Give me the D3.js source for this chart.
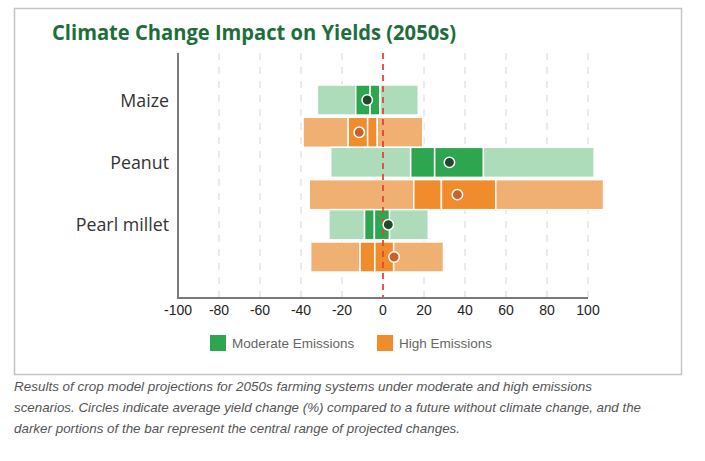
<!DOCTYPE html>
<html><head><meta charset="utf-8">
<script src="https://cdn.jsdelivr.net/npm/d3@7"></script>
<style>
body{margin:0;background:#fff;}
svg{display:block;}
</style></head>
<body>
<svg id="chart" width="705" height="461"></svg>
<script>
const crops = ["Maize", "Peanut", "Pearl millet"];
const series = ["Moderate Emissions", "High Emissions"];
// [min, q1, median, q3, max] per crop
const moderateRange = [
  [-32, -13.3, -6.3, -1.5, 17.2],
  [-25.5, 13.5, 25.2, 49, 103],
  [-26.4, -9, -4.2, 3.2, 22.1]
];
const highRange = [
  [-39, -17, -7.5, -2.8, 19.4],
  [-36, 15, 28.5, 55, 107.6],
  [-35.3, -11.2, -4, 5.2, 29.5]
];
const moderateMean = [-7.7, 32.4, 2.6];
const highMean = [-11.6, 36.3, 5.4];
const xTicks = [-100, -80, -60, -40, -20, 0, 20, 40, 60, 80, 100];

const colors = {
  "Moderate Emissions": {light: "#acdcb9", dark: "#2ea650", dot: "#1d4a2a"},
  "High Emissions": {light: "#f0b072", dark: "#f08c2c", dot: "#c8622c"}
};

const svg = d3.select("#chart");

// frame
svg.append("rect").attr("x", 14.5).attr("y", 8.5).attr("width", 667).attr("height", 366)
  .attr("fill", "none").attr("stroke", "#c4c4c4").attr("stroke-width", 1.5);

svg.append("text").attr("x", 52).attr("y", 40)
  .attr("font-family", "Open Sans").attr("font-weight", 700).attr("font-size", 20.5)
  .attr("fill", "#1e6e3b").attr("textLength", 404).attr("lengthAdjust", "spacingAndGlyphs")
  .text("Climate Change Impact on Yields (2050s)");

const x = d3.scaleLinear().domain([-100, 100]).range([178, 588]);
const plotTop = 53, plotBottom = 298;
const y = d3.scaleBand().domain(crops).range([85, 272]).paddingInner(0).paddingOuter(0);
const ys = d3.scaleBand().domain(series).range([0, y.bandwidth()]).paddingInner(0.07).paddingOuter(0.0);

// gridlines
svg.append("g").selectAll("line").data(xTicks.filter(d => d !== -100 && d !== 0)).join("line")
  .attr("x1", d => x(d)).attr("x2", d => x(d)).attr("y1", plotTop).attr("y2", plotBottom)
  .attr("stroke", "#d6d6d6").attr("stroke-width", 1).attr("stroke-dasharray", "7,7");

// bars
const rows = [];
crops.forEach((c, i) => {
  rows.push({crop: c, s: series[0], r: moderateRange[i], m: moderateMean[i]});
  rows.push({crop: c, s: series[1], r: highRange[i], m: highMean[i]});
});
const g = svg.append("g");
rows.forEach(row => {
  const y0 = y(row.crop) + ys(row.s), h = ys.bandwidth();
  const segs = [
    [row.r[0], row.r[1], "light"], [row.r[1], row.r[2], "dark"],
    [row.r[2], row.r[3], "dark"], [row.r[3], row.r[4], "light"]
  ];
  g.selectAll(null).data(segs).join("rect")
    .attr("x", d => x(d[0])).attr("width", d => x(d[1]) - x(d[0]))
    .attr("y", y0).attr("height", h)
    .attr("fill", d => colors[row.s][d[2]])
    .attr("stroke", "#fff").attr("stroke-width", 1.5);
});

// zero line
svg.append("line").attr("x1", x(0)).attr("x2", x(0)).attr("y1", plotTop).attr("y2", plotBottom)
  .attr("stroke", "#e8433b").attr("stroke-width", 1.8).attr("stroke-dasharray", "6,5");

// means
svg.append("g").selectAll("circle").data(rows).join("circle")
  .attr("cx", d => x(d.m)).attr("cy", d => y(d.crop) + ys(d.s) + ys.bandwidth() / 2)
  .attr("r", 5.2).attr("fill", d => colors[d.s].dot).attr("stroke", "#fff").attr("stroke-width", 1.5);

// axes
svg.append("line").attr("x1", x(-100)).attr("x2", x(-100)).attr("y1", plotTop).attr("y2", plotBottom)
  .attr("stroke", "#7a7a7a").attr("stroke-width", 2);
svg.append("line").attr("x1", x(-100) - 1).attr("x2", x(100)).attr("y1", plotBottom).attr("y2", plotBottom)
  .attr("stroke", "#7a7a7a").attr("stroke-width", 2);
svg.append("g").selectAll("text").data(xTicks).join("text")
  .attr("x", d => x(d)).attr("y", 315).attr("text-anchor", "middle")
  .attr("font-family", "Liberation Sans, Arial").attr("font-size", 14).attr("fill", "#222")
  .text(d => d);

svg.append("g").selectAll("text").data(crops).join("text")
  .attr("x", 169).attr("y", d => y(d) + ys(series[0]) + ys.bandwidth() / 2 + 6.5)
  .attr("text-anchor", "end")
  .attr("font-family", "Open Sans").attr("font-size", 17.8).attr("fill", "#333")
  .text(d => d);

// legend
const legendX = [210, 377];
series.forEach((s, i) => {
  svg.append("rect").attr("x", legendX[i]).attr("y", 335).attr("width", 16).attr("height", 16)
    .attr("fill", colors[s].dark);
  svg.append("text").attr("x", legendX[i] + 22).attr("y", 348)
    .attr("font-family", "Liberation Sans, Arial").attr("font-size", 13.5).attr("fill", "#666")
    .text(s);
});

// caption
const caption = [
  "Results of crop model projections for 2050s farming systems under moderate and high emissions",
  "scenarios. Circles indicate average yield change (%) compared to a future without climate change, and the",
  "darker portions of the bar represent the central range of projected changes."
];
const captionLen = [578, 627, 446];
svg.append("g").selectAll("text").data(caption).join("text")
  .attr("x", 14).attr("y", (d, i) => 391 + i * 21)
  .attr("font-family", "Liberation Sans, Arial").attr("font-style", "italic")
  .attr("font-size", 13).attr("fill", "#555")
  .attr("textLength", (d, i) => captionLen[i]).attr("lengthAdjust", "spacingAndGlyphs")
  .text(d => d);
</script>
</body></html>
